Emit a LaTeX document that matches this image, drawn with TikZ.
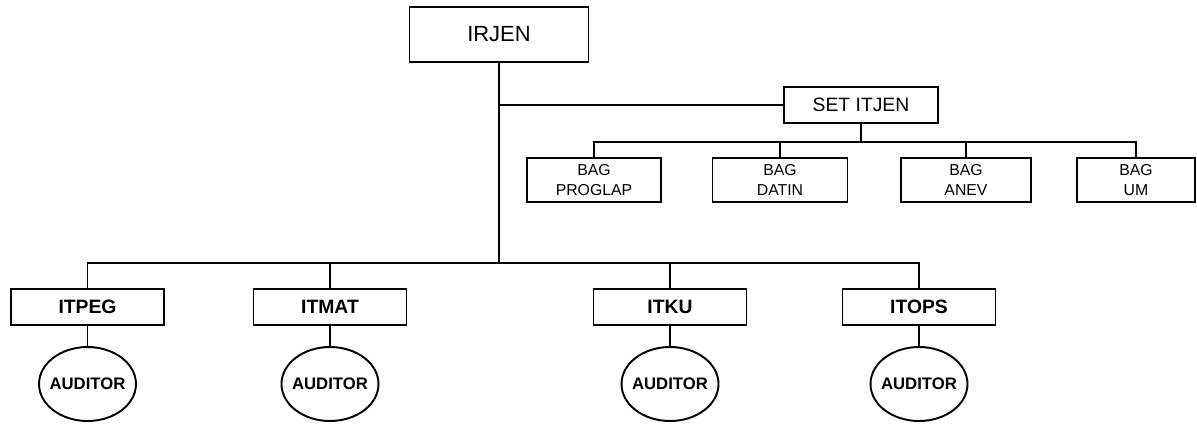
\documentclass[tikz,border=0pt]{standalone}
\usepackage{fontspec}
\setmainfont{Liberation Sans}
\usetikzlibrary{calc}
\usetikzlibrary{shapes.geometric}

\begin{document}
\begin{tikzpicture}[x=0.02cm, y=-0.02cm, line width=1.1pt,
		Kasten/.style={draw, rectangle, inner sep=0pt, align=center},
		Bag/.style={Kasten, minimum height=0.88cm, font=\fontsize{9}{11.4}\selectfont},
		Inspektorat/.style={Kasten, minimum width=3.06cm, minimum height=0.72cm, font=\fontsize{11}{13}\selectfont\bfseries},
		Oval/.style={draw, ellipse, inner xsep=-2.5pt, inner ysep=0pt, minimum width=1.94cm, minimum height=1.48cm, font=\fontsize{9.5}{11}\selectfont\bfseries}]
				\useasboundingbox (0,0) rectangle (1197,423);
				% Pimpinan
				\node (irjen) at (499,34.5) [Kasten, minimum width=3.58cm, minimum height=1.1cm, font=\fontsize{12.5}{14}\selectfont] {IRJEN};
				\node (setitjen) at (861,105) [Kasten, minimum width=3.08cm, minimum height=0.72cm, font=\fontsize{11}{13}\selectfont] {SET ITJEN};
				% Bagian
				\node (proglap) at (594,180) [Bag, minimum width=2.68cm] {BAG\\PROGLAP};
				\node (datin) at (780,180) [Bag, minimum width=2.7cm] {BAG\\DATIN};
				\node (anev) at (966,180) [Bag, minimum width=2.6cm] {BAG\\ANEV};
				\node (um) at (1136,180) [Bag, minimum width=2.36cm] {BAG\\UM};
				% Inspektorat
				\node (itpeg) at (87.5,307) [Inspektorat] {ITPEG};
				\node (itmat) at (330,307) [Inspektorat] {ITMAT};
				\node (itku) at (670,307) [Inspektorat] {ITKU};
				\node (itops) at (919,307) [Inspektorat] {ITOPS};
				\node (aud1) at (87.5,384) [Oval] {AUDITOR};
				\node (aud2) at (330,384) [Oval] {AUDITOR};
				\node (aud3) at (670,384) [Oval] {AUDITOR};
				\node (aud4) at (919,384) [Oval] {AUDITOR};
				% Linien
				\coordinate (bus) at ($(irjen.south) + (0,200.5)$);
				\coordinate (setbus) at ($(setitjen.south) + (0,18)$);
				\draw (irjen.south) -- (bus);
				\draw (irjen.south |- setitjen.west) -- (setitjen.west);
				\draw (setitjen.south) -- (setbus);
				\draw (proglap.north) |- (setbus) -| (um.north);
				\draw (datin.north) -- (datin.north |- setbus);
				\draw (anev.north) -- (anev.north |- setbus);
				\draw (itpeg.north) |- (bus) -| (itops.north);
				\draw (itmat.north) -- (itmat.north |- bus);
				\draw (itku.north) -- (itku.north |- bus);
				\draw (itpeg) -- (aud1);
				\draw (itmat) -- (aud2);
				\draw (itku) -- (aud3);
				\draw (itops) -- (aud4);
			\end{tikzpicture}
\end{document}
